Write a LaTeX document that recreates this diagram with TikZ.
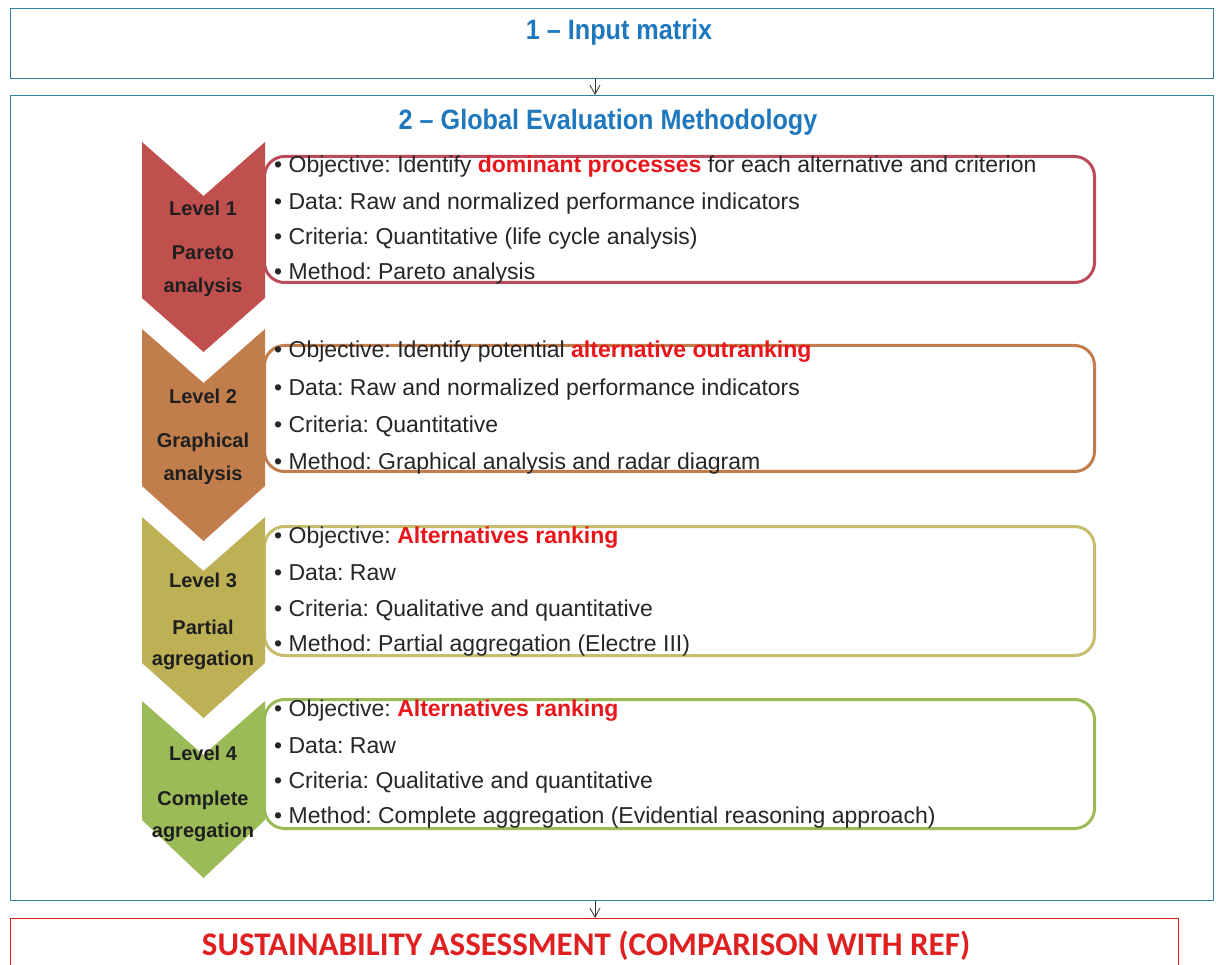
\documentclass[tikz,border=0pt]{standalone}
\usepackage{fontspec}
\usepackage{graphicx}
\setmainfont{Liberation Sans}
\newfontfamily\narrowfont[FakeStretch=0.9,Ligatures=TeX]{Liberation Sans}
\newfontfamily\carlito{Carlito}
\usetikzlibrary{arrows.meta}
\definecolor{frameblue}{HTML}{31809F}
\definecolor{titleblue}{HTML}{1F78BE}
\definecolor{cA}{HTML}{C0504D}
\definecolor{cAb}{HTML}{BC4A58}
\definecolor{cB}{HTML}{C27D4C}
\definecolor{cC}{HTML}{BDB055}
\definecolor{cCb}{HTML}{C6BE6E}
\definecolor{cD}{HTML}{9BBB59}
\definecolor{hl}{HTML}{E8161B}
\definecolor{txt}{HTML}{262626}
\definecolor{sred}{HTML}{E02020}
\tikzset{
  framebox/.style={draw=frameblue, line width=1.3pt, anchor=north west, inner sep=0pt},
  title/.style={font=\narrowfont\bfseries\fontsize{28}{30}\selectfont, text=titleblue, inner sep=0pt},
  lvbox/.style={draw, line width=3pt, rounded corners=20pt, anchor=north west, minimum width=830pt, minimum height=126pt, inner sep=0pt},
  bul/.style={anchor=base west, text=txt, font=\fontsize{23}{26}\selectfont, inner sep=0pt},
  lab/.style={font=\bfseries\fontsize{20}{22}\selectfont, text=black!88, inner sep=0pt},
  arr/.style={-{Straight Barb[length=9pt,width=10pt]}, line width=0.8pt, black!80}
}
\newcommand{\hlw}[1]{\textcolor{hl}{\bfseries #1}}
\frenchspacing
\begin{document}
\begin{tikzpicture}[x=1pt,y=-1pt]
\useasboundingbox (0,0) rectangle (1216,965);
\fill[white] (0,0) rectangle (1216,965);

% frames
\node[framebox, minimum width=1203pt, minimum height=70pt] (inbox) at (10,8) {};
\node[title] (intitle) at (619,32) {1 – Input matrix};
\node[framebox, minimum width=1203pt, minimum height=805pt] (gem) at (10,95) {};
\node[title] (gemtitle) at (608,122) {2 – Global Evaluation Methodology};
\node[draw=sred, line width=1.3pt, anchor=north west, inner sep=0pt, minimum width=1168pt, minimum height=70pt] (sust) at (10,918) {};
\node[text=sred, font=\carlito\bfseries\fontsize{33}{36}\selectfont, inner sep=0pt] (susttitle) at (586,946) {SUSTAINABILITY ASSESSMENT (COMPARISON WITH REF)};

\coordinate (ax) at (595,0);
\draw[arr] (inbox.south -| ax) -- (gem.north -| ax);
\draw[arr] (gem.south -| ax) -- (sust.north -| ax);

% level boxes
\node[lvbox, draw=cAb] (b1) at (263,155) {};
\node[lvbox, draw=cB] (b2) at (263,344) {};
\node[lvbox, draw=cCb, minimum height=129pt] (b3) at (263,525) {};
\node[lvbox, draw=cD, minimum height=129pt] (b4) at (263,698) {};

% chevrons
\fill[cA] (142,142) -- (203.5,196) -- (265,142) -- (265,298) -- (203.5,352) -- (142,298) -- cycle;
\fill[cB] (142,329) -- (203.5,383) -- (265,329) -- (265,486) -- (203.5,541) -- (142,486) -- cycle;
\fill[cC] (142,517) -- (203.5,571) -- (265,517) -- (265,663) -- (203.5,718) -- (142,663) -- cycle;
\fill[cD] (142,701) -- (203.5,755) -- (265,701) -- (265,820) -- (203.5,878) -- (142,820) -- cycle;

% chevron labels
\node[lab] (l1a) at (203,208) {Level 1};
\node[lab] (l1b) at (203,253) {Pareto};
\node[lab] (l1c) at (203,287) {analysis};
\node[lab] (l2a) at (203,396) {Level 2};
\node[lab] (l2b) at (203,442) {Graphical};
\node[lab] (l2c) at (203,475) {analysis};
\node[lab] (l3a) at (203,580) {Level 3};
\node[lab] (l3b) at (203,627) {Partial};
\node[lab] (l3c) at (203,660) {agregation};
\node[lab] (l4a) at (203,753) {Level 4};
\node[lab] (l4b) at (203,800) {Complete};
\node[lab] (l4c) at (203,832) {agregation};

% bullet texts
\node[bul] (t11) at (274,173) {• Objective: Identify \hlw{dominant processes} for each alternative and criterion};
\node[bul] (t12) at (274,210) {• Data: Raw and normalized performance indicators};
\node[bul] (t13) at (274,245) {• Criteria: Quantitative (life cycle analysis)};
\node[bul] (t14) at (274,280) {• Method: Pareto analysis};

\node[bul] (t21) at (274,358) {• Objective: Identify potential \hlw{alternative outranking}};
\node[bul] (t22) at (274,396) {• Data: Raw and normalized performance indicators};
\node[bul] (t23) at (274,433) {• Criteria: Quantitative};
\node[bul] (t24) at (274,469) {• Method: Graphical analysis and radar diagram};

\node[bul] (t31) at (274,543) {• Objective: \hlw{Alternatives ranking}};
\node[bul] (t32) at (274,580) {• Data: Raw};
\node[bul] (t33) at (274,616) {• Criteria: Qualitative and quantitative};
\node[bul] (t34) at (274,651) {• Method: Partial aggregation (Electre III)};

\node[bul] (t41) at (274,716) {• Objective: \hlw{Alternatives ranking}};
\node[bul] (t42) at (274,753) {• Data: Raw};
\node[bul] (t43) at (274,788) {• Criteria: Qualitative and quantitative};
\node[bul] (t44) at (274,823) {• Method: Complete aggregation (Evidential reasoning approach)};
\end{tikzpicture}
\end{document}
